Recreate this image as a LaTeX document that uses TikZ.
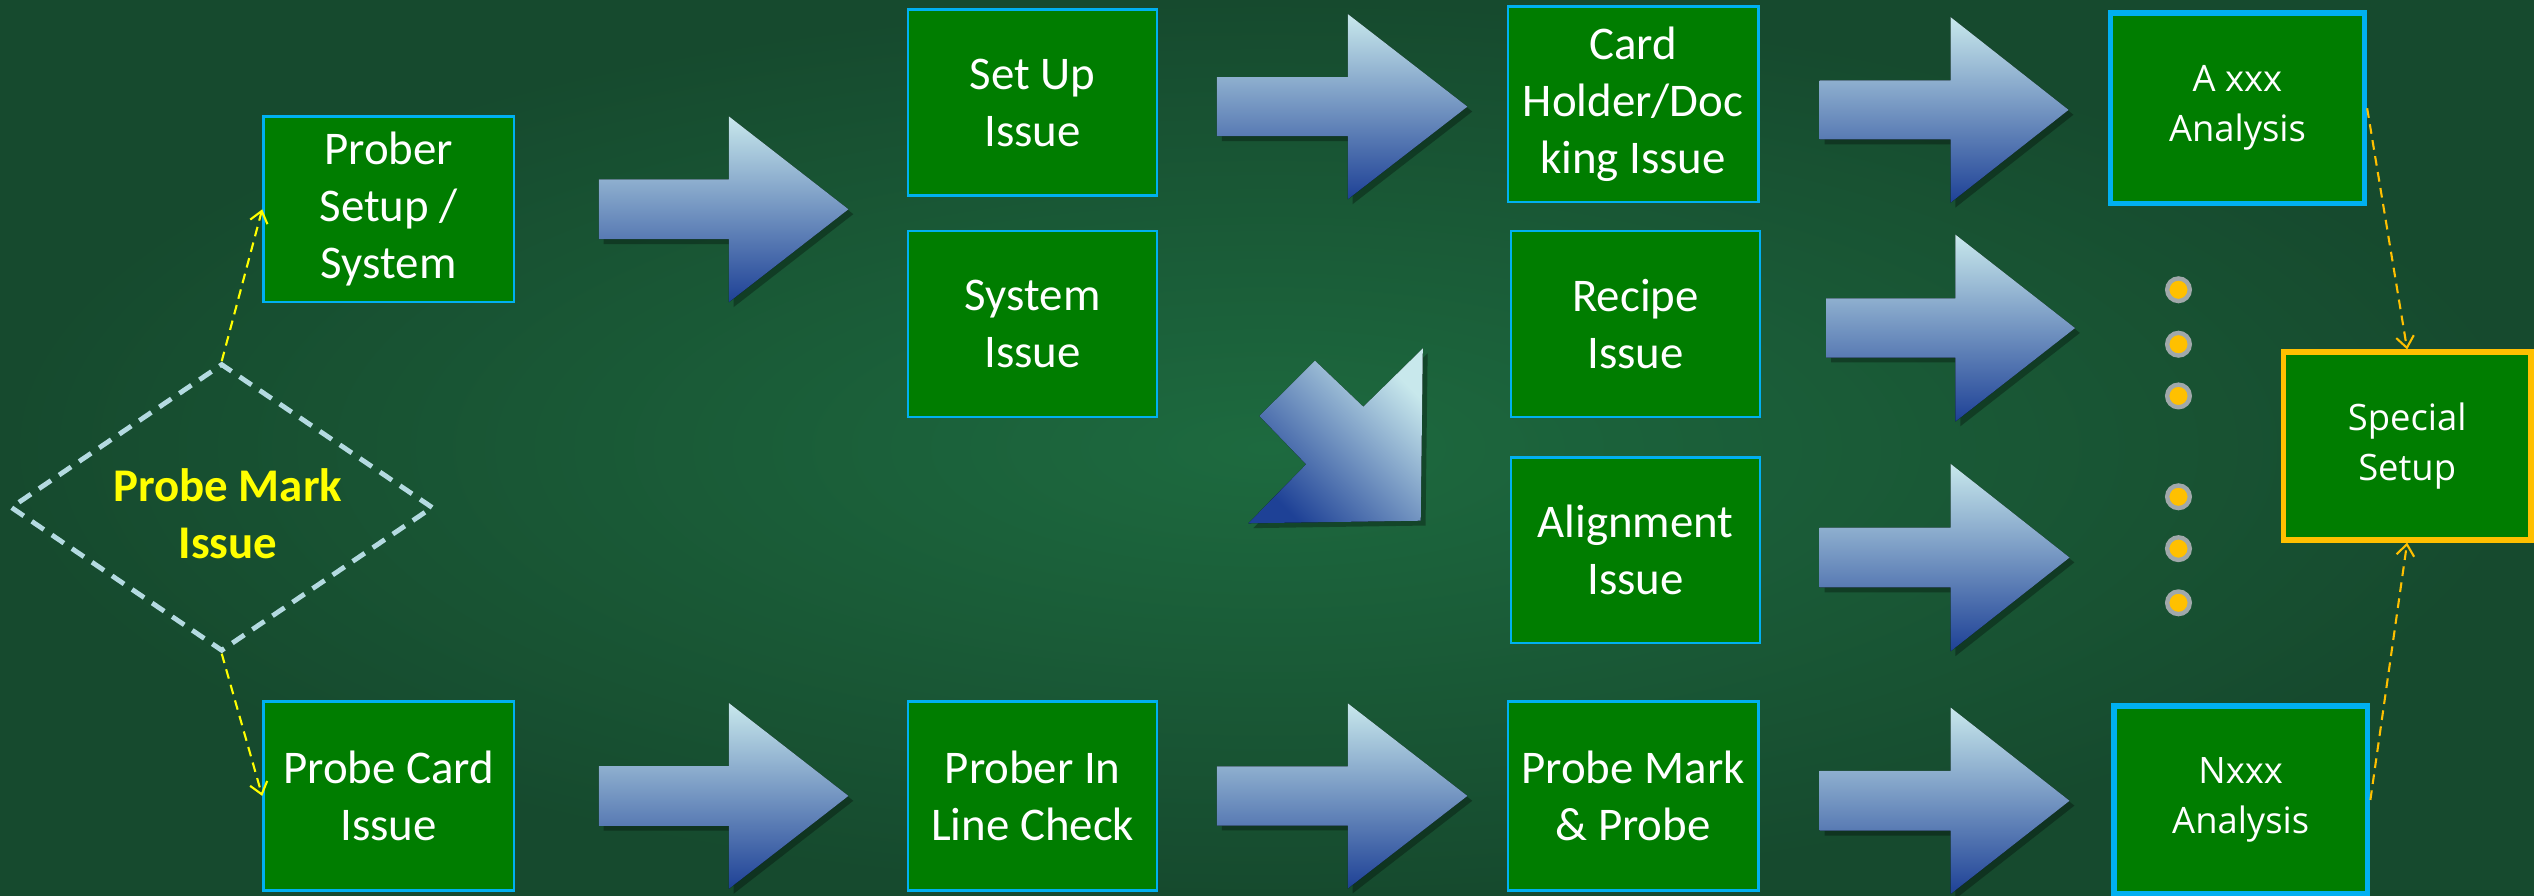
\documentclass[tikz,border=0pt]{standalone}
\usepackage{fontspec}
\setmainfont{Carlito}
\newfontfamily\osans{Open Sans}
\usetikzlibrary{shapes.geometric,arrows.meta}
\definecolor{bgin}{RGB}{29,106,63}
\definecolor{bgout}{RGB}{22,74,46}
\definecolor{boxgreen}{RGB}{0,125,0}
\definecolor{boxcyan}{RGB}{0,176,240}
\definecolor{orangeb}{RGB}{255,192,0}
\definecolor{dashblue}{RGB}{180,218,225}
\definecolor{arrtop}{RGB}{200,232,236}
\definecolor{arrmid}{RGB}{135,165,192}
\definecolor{arrbot}{RGB}{30,65,150}
\definecolor{dotgray}{RGB}{160,168,170}
\definecolor{yel}{RGB}{255,255,0}
\newcommand\blockarrowpath[6]{(#1,#4-#5) -- (#2,#4-#5) -- (#2,#4-#6) -- (#3,#4) -- (#2,#4+#6) -- (#2,#4+#5) -- (#1,#4+#5) -- cycle}
\newcommand\barrow[6]{%
  \fill[black,opacity=0.3,xshift=3pt,yshift=-3pt] \blockarrowpath{#1}{#2}{#3}{#4}{#5}{#6};
  \fill[top color=arrtop,middle color=arrmid,bottom color=arrbot] \blockarrowpath{#1}{#2}{#3}{#4}{#5}{#6};}
\tikzset{
  box/.style={draw=boxcyan, line width=1.5pt, fill=boxgreen, text=white, align=center,
    inner sep=0pt, font=\fontsize{29}{35.4}\selectfont},
  abox/.style={box, line width=3.5pt, font=\osans\fontsize{22.5}{31}\selectfont},
  sbox/.style={abox, draw=orangeb},
  ydash/.style={draw=yel, line width=1.3pt, dash pattern=on 6pt off 4pt,
    -{Straight Barb[length=7pt,width=11pt]}},
  odash/.style={ydash, draw=orangeb},
  dotnode/.style={circle, minimum size=14pt, inner sep=0pt, fill=orangeb, draw=dotgray, line width=2.7pt},
}
\begin{document}
\begin{tikzpicture}[x=1pt,y=-1pt]
\useasboundingbox (0,0) rectangle (1568,554);
\fill[inner color=bgin, outer color=bgout] (0,0) rectangle (1568,554);

% block arrows
\barrow{370.5}{451}{525}{129.5}{18.5}{57.5}
\barrow{370.5}{451}{525}{492.5}{18.5}{57.5}
\barrow{753}{834}{908}{66}{18.3}{57.3}
\barrow{753}{834}{908}{492.5}{18.3}{57.3}
\barrow{1126}{1207}{1280}{68}{18.3}{57.4}
\barrow{1130}{1210}{1284}{203}{18.3}{57.8}
\barrow{1126}{1207}{1280.6}{345}{18.5}{58}
\barrow{1126}{1207}{1280.6}{495.5}{18.5}{57.7}
% diagonal arrow
\fill[black,opacity=0.3,xshift=3pt,yshift=-3pt] (880.4,215.6) -- (843.6,251.7) -- (813.7,223.2) -- (779.3,257.4) -- (808.2,287.3) -- (772.5,323.8) -- (879.1,322.2) -- cycle;
\fill[top color=arrtop,middle color=arrmid,bottom color=arrbot,shading angle=-45] (880.4,215.6) -- (843.6,251.7) -- (813.7,223.2) -- (779.3,257.4) -- (808.2,287.3) -- (772.5,323.8) -- (879.1,322.2) -- cycle;

% diamond
\node[diamond, aspect=1.47, minimum width=261.6pt, minimum height=178pt, inner sep=0pt,
  draw=dashblue, line width=3pt, dash pattern=on 9pt off 6pt] (pm) at (137.2,314) {};
\node[text=yel, align=center, inner sep=0pt, font=\bfseries\fontsize{29}{35.4}\selectfont]
  (pmt) at (141,318) {Probe Mark\\Issue};

% boxes
\node[box, minimum width=155pt, minimum height=115pt] (psys) at (240.5,129.5) {Prober\\Setup /\\System};
\node[box, minimum width=155pt, minimum height=117pt] (pcard) at (240.5,492.5) {Probe Card\\Issue};
\node[box, minimum width=154pt, minimum height=115pt] (setup) at (639,63.5) {Set Up\\Issue};
\node[box, minimum width=154pt, minimum height=115pt] (sysi) at (639,200.5) {System\\Issue};
\node[box, minimum width=155pt, minimum height=121pt] (card) at (1010.5,64.5) {Card\\Holder/Doc\\king Issue};
\node[box, minimum width=154pt, minimum height=115pt] (recipe) at (1012,200.5) {Recipe\\Issue};
\node[box, minimum width=154pt, minimum height=115pt] (align) at (1012,340.5) {Alignment\\Issue};
\node[box, minimum width=154pt, minimum height=117pt] (inline) at (639,492.5) {Prober In\\Line Check};
\node[box, minimum width=155pt, minimum height=117pt] (pmp) at (1010.5,492.5) {Probe Mark\\\& Probe};
\node[abox, minimum width=157pt, minimum height=118pt] (ax) at (1384.5,67) {A xxx\\Analysis};
\node[abox, minimum width=157pt, minimum height=116pt] (nx) at (1386.5,495) {Nxxx\\Analysis};
\node[sbox, minimum width=153pt, minimum height=116pt] (ss) at (1489.5,276) {Special\\Setup};

% dots
\node[dotnode] (d1) at (1348,179.3) {};
\node[dotnode] (d2) at (1348,213) {};
\node[dotnode] (d3) at (1348,245) {};
\node[dotnode] (d4) at (1348,307.4) {};
\node[dotnode] (d5) at (1348,339.5) {};
\node[dotnode] (d6) at (1348,373) {};

% dashed connectors
\draw[ydash] (pm.north) -- (psys.west);
\draw[ydash] (pm.south) -- (pcard.west);
\draw[odash] (ax.east) -- (ss.north);
\draw[odash] (nx.east) -- (ss.south);
\end{tikzpicture}
\end{document}
